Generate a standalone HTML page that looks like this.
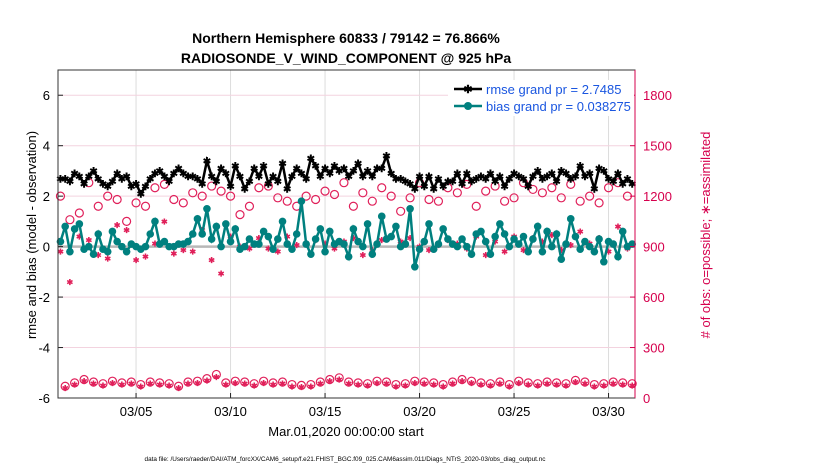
<!DOCTYPE html>
<html><head><meta charset="utf-8"><style>
body{margin:0;background:#fff;font-family:"Liberation Sans",sans-serif}
</style></head><body>
<svg id="c" width="830" height="470" xmlns="http://www.w3.org/2000/svg" font-family="Liberation Sans, sans-serif">
<rect width="830" height="470" fill="#fff"/>
<text x="346" y="43" text-anchor="middle" font-size="14" font-weight="bold">Northern Hemisphere 60833 / 79142 = 76.866%</text>
<text x="346" y="63" text-anchor="middle" font-size="14" font-weight="bold">RADIOSONDE_V_WIND_COMPONENT @ 925 hPa</text>
<g id="grid"></g><g id="marks"></g><g id="axes"></g>
<text transform="translate(36,235) rotate(-90)" text-anchor="middle" font-size="13">rmse and bias (model - observation)</text>
<text transform="translate(710,235) rotate(-90)" text-anchor="middle" font-size="13" fill="#d6004d"># of obs: o=possible; ∗=assimilated</text>
<text x="346" y="436" text-anchor="middle" font-size="13">Mar.01,2020 00:00:00 start</text>
<text x="345" y="461" text-anchor="middle" font-size="6.4">data file: /Users/raeder/DAI/ATM_forcXX/CAM6_setup/f.e21.FHIST_BGC.f09_025.CAM6assim.011/Diags_NTrS_2020-03/obs_diag_output.nc</text>
<g>
<rect x="448" y="80" width="186" height="36" fill="#fff"/>
<line x1="454" y1="89" x2="482" y2="89" stroke="#000" stroke-width="2.5"/>
<text x="468" y="93" text-anchor="middle" font-size="11" font-weight="bold">✱</text>
<text x="486" y="94" font-size="13" fill="#1a56e0">rmse grand pr = 2.7485</text>
<line x1="454" y1="106" x2="482" y2="106" stroke="#00807f" stroke-width="2.5"/>
<circle cx="468" cy="106" r="4" fill="#00807f"/>
<text x="486" y="111" font-size="13" fill="#1a56e0">bias grand pr = 0.038275</text>
</g>
</svg>
<script>
const rmse=[2.7,2.7,2.6,2.9,2.8,2.5,2.8,3.0,2.7,2.5,2.4,2.6,2.9,2.7,2.8,2.4,2.5,2.1,2.4,2.7,2.9,3.0,2.8,2.6,2.9,3.1,2.9,2.8,2.8,2.7,2.5,3.4,2.8,2.6,3.1,2.9,2.4,3.2,2.8,2.3,2.6,3.1,2.8,3.2,2.5,2.8,2.6,3.3,2.3,2.8,3.1,2.9,2.7,3.5,3.2,2.8,3.1,2.9,3.2,3.0,3.1,2.8,3.0,3.3,2.8,3.0,2.8,3.1,3.1,3.6,2.9,2.7,2.7,2.6,2.5,2.3,2.8,2.4,2.8,2.3,2.7,2.4,2.6,2.6,2.9,2.5,2.9,2.6,2.7,2.8,2.7,2.9,2.6,2.8,2.4,2.7,2.9,2.8,2.7,2.4,2.8,3.0,2.7,2.8,2.9,2.6,3.0,2.9,2.7,2.8,3.2,2.8,2.9,2.3,3.1,3.0,2.7,2.6,2.9,2.5,2.7,2.5];
const bias=[0.2,0.8,-0.2,0.7,0.9,-0.1,0.0,-0.3,0.5,-0.1,-0.2,0.6,0.2,0.0,-0.2,0.1,0.0,-0.1,0.0,0.5,1.0,0.1,0.2,0.0,0.0,0.1,0.1,0.2,0.5,1.1,0.5,1.5,0.3,0.8,0.0,0.9,0.2,0.7,-0.1,0.0,0.3,0.1,0.1,0.6,0.4,-0.1,0.3,1.0,0.1,-0.1,0.5,1.8,0.1,-0.3,0.3,0.7,-0.2,0.6,0.1,0.2,0.1,-0.4,0.7,0.2,0.0,0.9,-0.3,0.1,1.2,0.3,0.4,0.8,0.0,0.1,1.5,-0.8,-0.1,0.2,0.9,-0.1,0.1,0.7,0.3,0.1,0.0,0.3,0.0,-0.3,0.5,0.6,0.2,-0.3,0.4,0.9,0.5,0.0,0.3,0.1,0.4,-0.2,0.3,0.8,-0.2,0.6,0.0,0.5,-0.5,0.1,1.1,0.4,-0.1,0.2,0.0,-0.2,0.3,-0.6,0.2,0.1,-0.4,0.6,0.0,0.1];
const possHi=[1200,1060,1100,1280,1140,1200,1180,1050,1160,1140,1250,1270,1180,1160,1220,1200,1260,1230,1200,1090,1140,1250,1260,1190,1170,1140,1200,1180,1230,1210,1280,1140,1220,1170,1250,1200,1110,1190,1280,1180,1170,1250,1220,1270,1140,1230,1260,1170,1190,1280,1240,1220,1250,1190,1270,1170,1200,1160,1250,1280,1200];
const possLo=[70,90,110,95,85,100,90,95,80,95,90,85,70,95,100,115,140,90,100,95,85,100,90,95,80,75,80,95,110,120,95,90,85,100,95,80,85,100,95,90,80,95,110,100,90,85,95,80,100,90,85,95,90,85,105,95,80,85,95,90,85];
const usedHi=[870,690,960,940,850,830,1030,1000,820,840,920,1050,860,880,870,1000,820,740,960,900,890,950,890,870,960,910,920,940,920,890,930,950,850,880,940,960,930,950,900,880,910,940,920,890,960,850,930,870,960,880,950,930,970,880,910,990,920,950,870,1020,890];
const usedLo=[60,80,100,85,75,90,80,85,70,85,80,75,60,85,90,105,125,80,90,85,75,90,80,85,70,65,70,85,100,110,85,80,75,90,85,70,75,90,85,80,70,85,100,90,80,75,85,70,90,80,75,85,80,75,95,85,70,75,85,80,75];
const leftTicks=[-6,-4,-2,0,2,4,6];
const rightTicks=[0,300,600,900,1200,1500,1800];
const xTickDays=[4,9,14,19,24,29];
const xTickLabels=['03/05','03/10','03/15','03/20','03/25','03/30'];
const stepDays=0.25;
const NS='http://www.w3.org/2000/svg';
const L=58,R=635,T=70,B=398;
const X=t=>L+(t+0.13)/(30.53)*(R-L);
const Y=v=>B-(v+6)/13*(B-T);
const YR=n=>B-n/1950*(B-T);
function mk(tag,attrs,parent){const e=document.createElementNS(NS,tag);for(const k in attrs)e.setAttribute(k,attrs[k]);parent.appendChild(e);return e;}
const grid=document.getElementById('grid'),marks=document.getElementById('marks'),axes=document.getElementById('axes');
xTickDays.forEach((d,i)=>{
 const g=mk('line',{x1:X(d),x2:X(d),y1:T,y2:B,stroke:'#dcdcdc','stroke-width':1},grid);
 
 
 mk('line',{x1:X(d),x2:X(d),y1:B,y2:B-5,stroke:'#222'},axes);
 const t=mk('text',{x:X(d),y:B+18,'text-anchor':'middle','font-size':13},axes);t.textContent=xTickLabels[i];
 
 
});
rightTicks.forEach(n=>{
 const g=mk('line',{x1:L,x2:R,y1:YR(n),y2:YR(n),stroke:'#f3d3df','stroke-width':1},grid);
 
 
 mk('line',{x1:R,x2:R-5,y1:YR(n),y2:YR(n),stroke:'#d6004d'},axes);
 const t=mk('text',{x:R+8,y:YR(n)+5,'font-size':13,fill:'#d6004d'},axes);t.textContent=n;
 
 
});
leftTicks.forEach(v=>{
 mk('line',{x1:L,x2:L+5,y1:Y(v),y2:Y(v),stroke:'#222'},axes);
 const t=mk('text',{x:L-8,y:Y(v)+5,'text-anchor':'end','font-size':13},axes);t.textContent=v;
 
 
});
const z=mk('line',{x1:L,x2:R,y1:Y(0),y2:Y(0),stroke:'#b8b8b8','stroke-width':2.5},grid);


possHi.forEach((n,i)=>{const c=mk('circle',{cx:X(i*2*stepDays),cy:YR(n),r:4,fill:'none',stroke:'#e0205a','stroke-width':1.2},marks);
 
 });
possLo.forEach((n,i)=>{const c=mk('circle',{cx:X((i*2+1)*stepDays),cy:YR(n),r:4,fill:'none',stroke:'#e0205a','stroke-width':1.2},marks);
 
 });
function star(x,y,col,sz,name){const t=mk('text',{x:x,y:y+sz*0.38,'text-anchor':'middle','font-size':sz,fill:col,'font-weight':'bold'},marks);t.textContent='✱';
 
 }
usedHi.forEach((n,i)=>star(X(i*2*stepDays),YR(n),'#e0205a',8,'assimilated-obs-point'));
usedLo.forEach((n,i)=>star(X((i*2+1)*stepDays),YR(n),'#e0205a',8,'assimilated-obs-point'));
const rl=mk('polyline',{points:rmse.map((v,i)=>X(i*stepDays)+','+Y(v)).join(' '),fill:'none',stroke:'#000','stroke-width':2.5},marks);


rmse.forEach((v,i)=>star(X(i*stepDays),Y(v),'#000',10,'rmse-point'));
const bl=mk('polyline',{points:bias.map((v,i)=>X(i*stepDays)+','+Y(v)).join(' '),fill:'none',stroke:'#00807f','stroke-width':2.5},marks);


bias.forEach((v,i)=>{const c=mk('circle',{cx:X(i*stepDays),cy:Y(v),r:3.8,fill:'#00807f'},marks);
 
 });
const fr=mk('rect',{x:L,y:T,width:R-L,height:B-T,fill:'none',stroke:'#333','stroke-width':1},axes);


mk('line',{x1:R,x2:R,y1:T,y2:B,stroke:'#d6004d','stroke-width':1},axes);
</script>
</body></html>
